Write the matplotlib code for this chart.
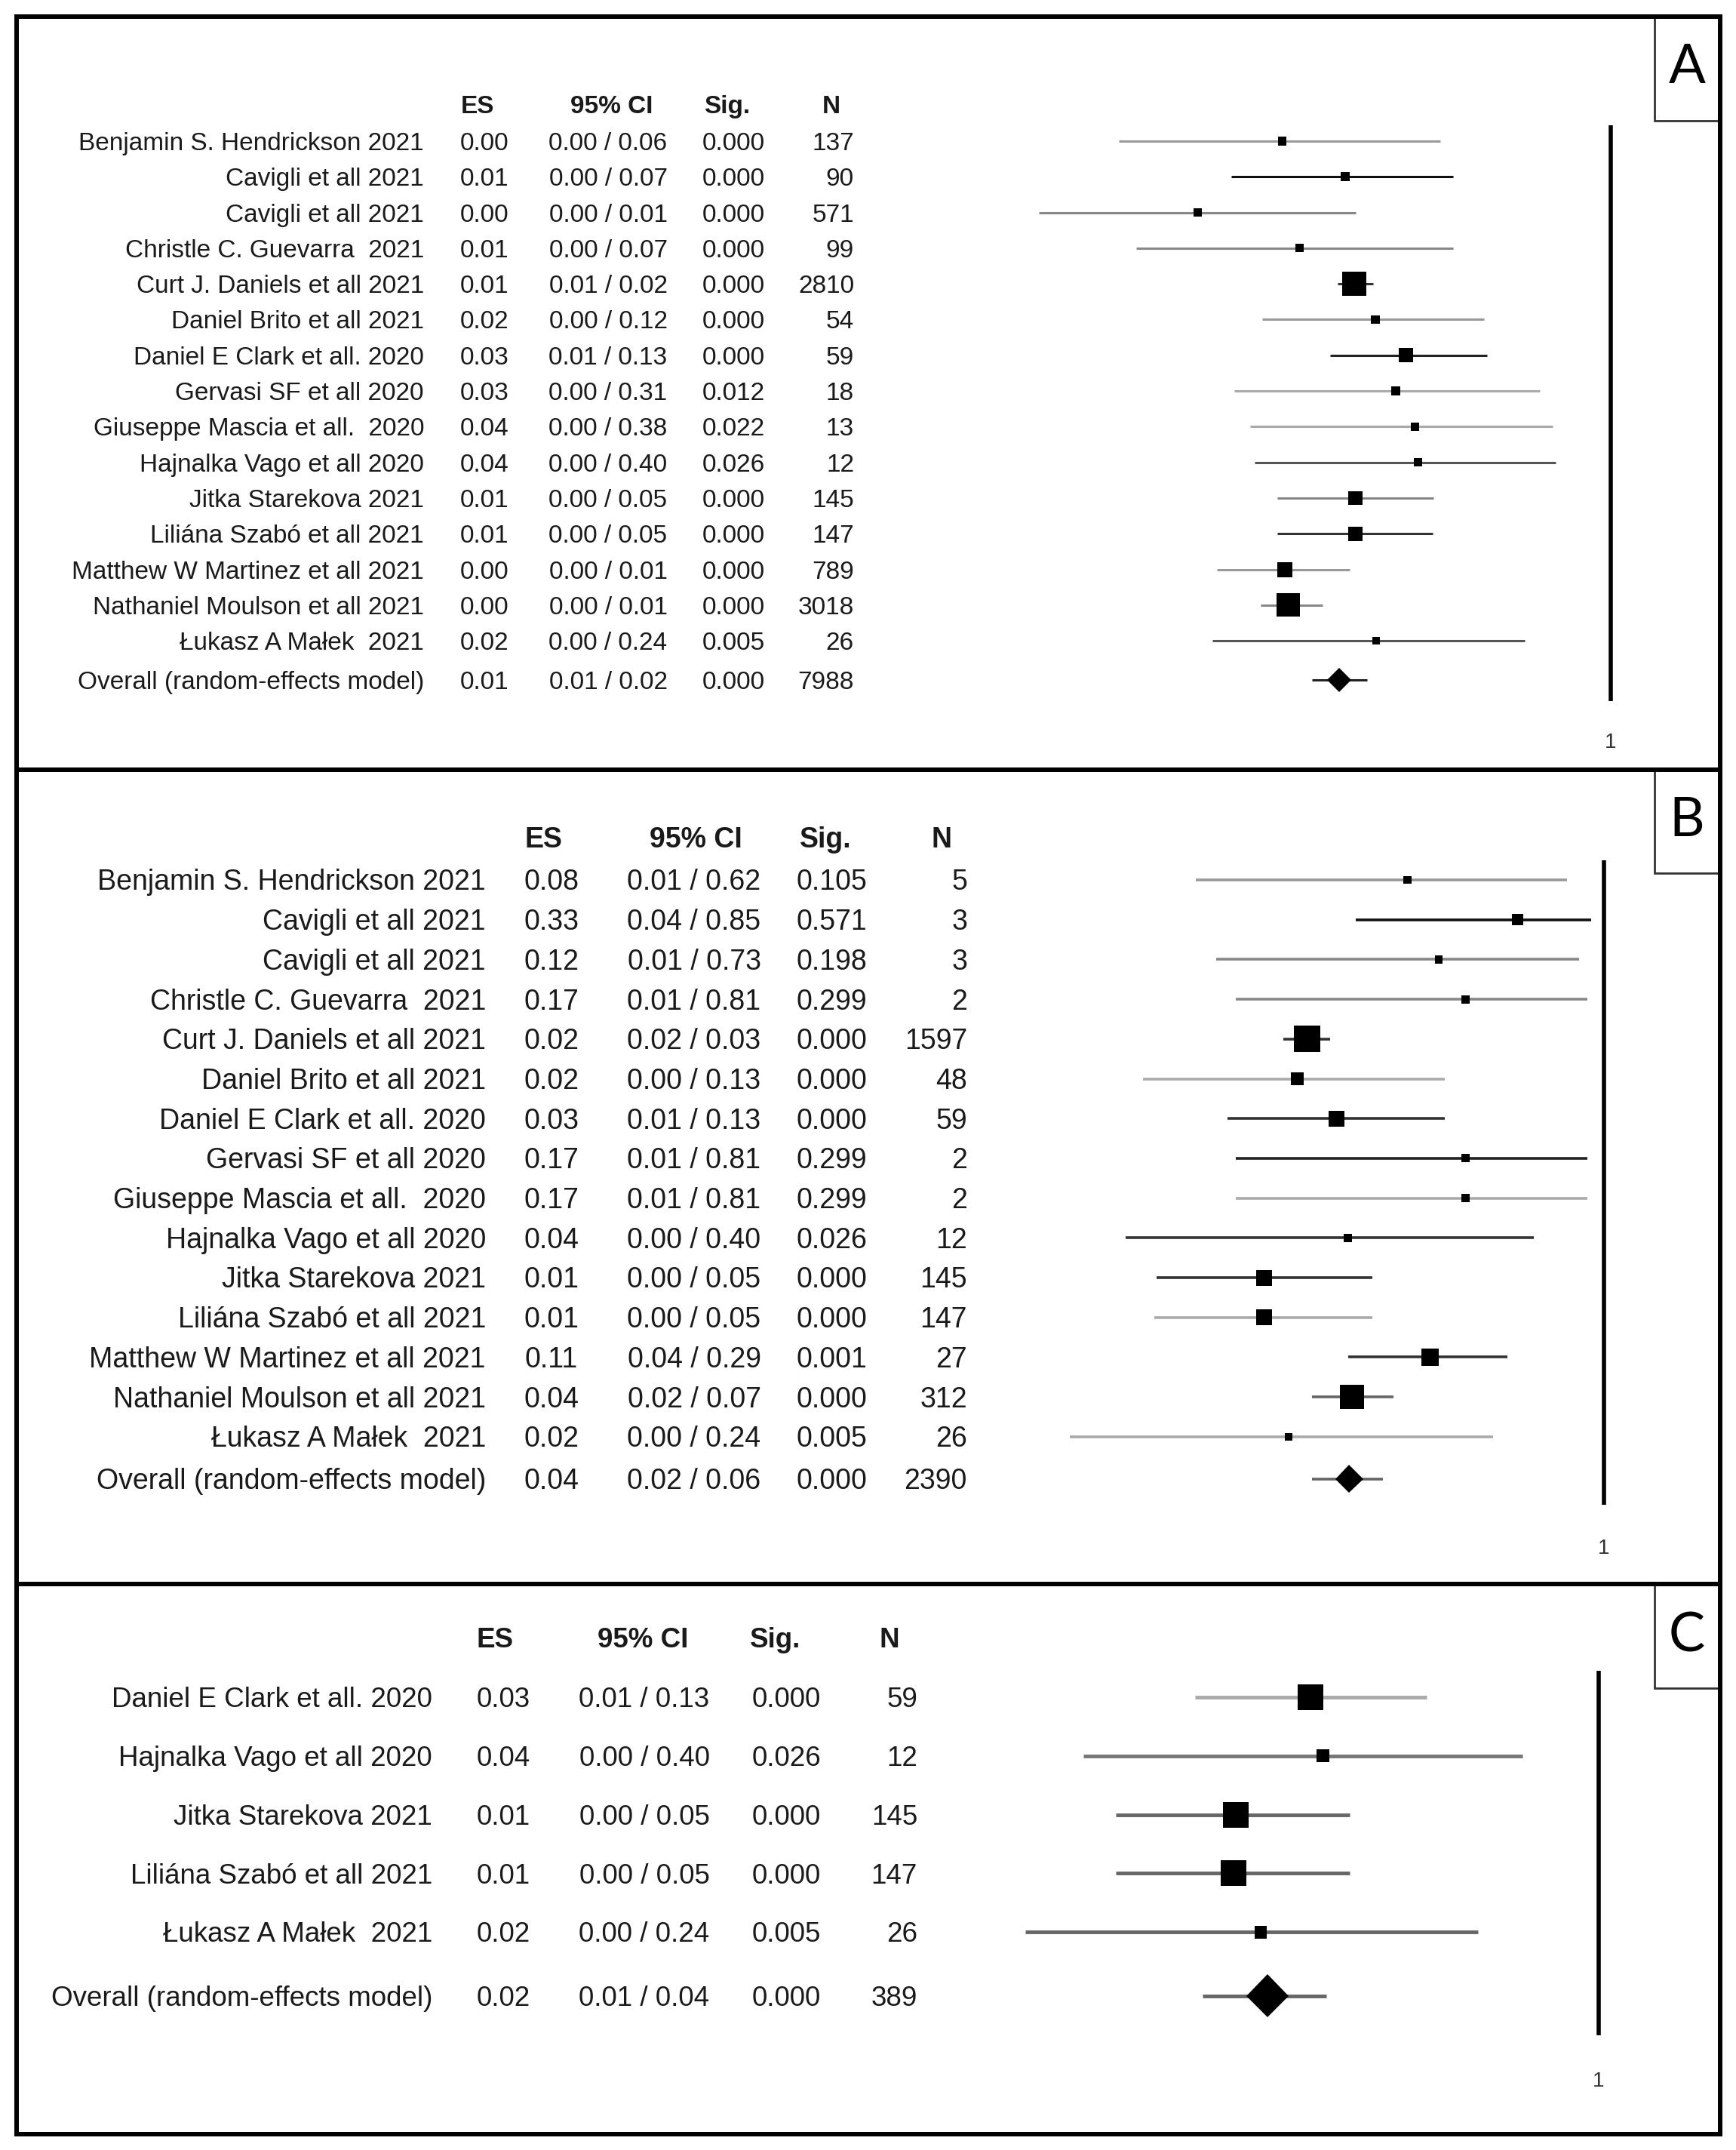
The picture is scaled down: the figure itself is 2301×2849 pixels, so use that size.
import numpy as np
import matplotlib.pyplot as plt
from matplotlib.patches import Rectangle

plt.rcParams['font.family'] = ['Liberation Sans', 'DejaVu Sans']

W, H, DPI = 2301, 2849, 100

# ---------------- data: panel A ----------------
studies_A = ['Benjamin S. Hendrickson 2021', 'Cavigli et all 2021', 'Cavigli et all 2021',
             'Christle C. Guevarra  2021', 'Curt J. Daniels et all 2021', 'Daniel Brito et all 2021',
             'Daniel E Clark et all. 2020', 'Gervasi SF et all 2020', 'Giuseppe Mascia et all.  2020',
             'Hajnalka Vago et all 2020', 'Jitka Starekova 2021', 'Liliána Szabó et all 2021',
             'Matthew W Martinez et all 2021', 'Nathaniel Moulson et all 2021', 'Łukasz A Małek  2021']
es_A = [0.00, 0.01, 0.00, 0.01, 0.01, 0.02, 0.03, 0.03, 0.04, 0.04, 0.01, 0.01, 0.00, 0.00, 0.02]
lo_A = [0.00, 0.00, 0.00, 0.00, 0.01, 0.00, 0.01, 0.00, 0.00, 0.00, 0.00, 0.00, 0.00, 0.00, 0.00]
hi_A = [0.06, 0.07, 0.01, 0.07, 0.02, 0.12, 0.13, 0.31, 0.38, 0.40, 0.05, 0.05, 0.01, 0.01, 0.24]
sig_A = [0.000, 0.000, 0.000, 0.000, 0.000, 0.000, 0.000, 0.012, 0.022, 0.026, 0.000, 0.000, 0.000, 0.000, 0.005]
n_A = [137, 90, 571, 99, 2810, 54, 59, 18, 13, 12, 145, 147, 789, 3018, 26]
overall_A = [0.01, 0.01, 0.02, 0.000, 7988]
# unrounded estimates as plotted (log scale)
pe_A = [0.0044, 0.0125, 0.0011, 0.0059, 0.0145, 0.0206, 0.034, 0.0288, 0.0398, 0.0418,
        0.0148, 0.0148, 0.0046, 0.0049, 0.0208]
pl_A = [0.0003, 0.0019, 0.00008, 0.0004, 0.011, 0.0032, 0.0098, 0.0020, 0.0026, 0.0028,
        0.0041, 0.0041, 0.0015, 0.0031, 0.0014]
ph_A = [0.060, 0.074, 0.0149, 0.074, 0.0198, 0.124, 0.130, 0.312, 0.383, 0.404,
        0.054, 0.053, 0.0135, 0.0086, 0.243]
pov_A = [0.0113, 0.0072, 0.018]
wt_A = [2.8, 3.3, 2.8, 2.8, 23.6, 3.3, 8.3, 3.3, 2.8, 2.8, 8.3, 8.3, 9.2, 22.1, 2.3]

# ---------------- data: panel B ----------------
studies_B = studies_A
es_B = [0.08, 0.33, 0.12, 0.17, 0.02, 0.02, 0.03, 0.17, 0.17, 0.04, 0.01, 0.01, 0.11, 0.04, 0.02]
lo_B = [0.01, 0.04, 0.01, 0.01, 0.02, 0.00, 0.01, 0.01, 0.01, 0.00, 0.00, 0.00, 0.04, 0.02, 0.00]
hi_B = [0.62, 0.85, 0.73, 0.81, 0.03, 0.13, 0.13, 0.81, 0.81, 0.40, 0.05, 0.05, 0.29, 0.07, 0.24]
sig_B = [0.105, 0.571, 0.198, 0.299, 0.000, 0.000, 0.000, 0.299, 0.299, 0.026, 0.000, 0.000, 0.001, 0.000, 0.005]
n_B = [5, 3, 3, 2, 1597, 48, 59, 2, 2, 12, 145, 147, 27, 312, 26]
overall_B = [0.04, 0.02, 0.06, 0.000, 2390]
pe_B = [0.078, 0.327, 0.117, 0.166, 0.0211, 0.0187, 0.031, 0.166, 0.166, 0.036,
        0.0121, 0.0121, 0.105, 0.038, 0.0166]
pl_B = [0.005, 0.040, 0.0065, 0.0084, 0.0155, 0.0025, 0.0075, 0.0084, 0.0084, 0.0020,
        0.0030, 0.0029, 0.036, 0.0226, 0.00097]
ph_B = [0.62, 0.846, 0.727, 0.806, 0.0285, 0.127, 0.126, 0.806, 0.806, 0.402,
        0.0495, 0.0495, 0.285, 0.065, 0.236]
pov_B = [0.0365, 0.0226, 0.0567]
wt_B = [2.2, 4.1, 2.2, 2.2, 22.5, 5.3, 8.1, 2.2, 2.2, 2.2, 8.1, 8.1, 9.7, 18.8, 1.8]

# ---------------- data: panel C ----------------
studies_C = ['Daniel E Clark et all. 2020', 'Hajnalka Vago et all 2020', 'Jitka Starekova 2021',
             'Liliána Szabó et all 2021', 'Łukasz A Małek  2021']
es_C = [0.03, 0.04, 0.01, 0.01, 0.02]
lo_C = [0.01, 0.00, 0.00, 0.00, 0.00]
hi_C = [0.13, 0.40, 0.05, 0.05, 0.24]
sig_C = [0.000, 0.026, 0.000, 0.000, 0.005]
n_C = [59, 12, 145, 147, 26]
overall_C = [0.02, 0.01, 0.04, 0.000, 389]
pe_C = [0.0318, 0.037, 0.013, 0.0126, 0.0175]
pl_C = [0.008, 0.0021, 0.0031, 0.0031, 0.00105]
ph_C = [0.128, 0.402, 0.0508, 0.0508, 0.236]
pov_C = [0.019, 0.0087, 0.0384]
wt_C = [28.6, 7.1, 28.6, 28.6, 7.1]

# layout of each panel, in pixels of the final image
layout = {
    'A': dict(top=22, bot=1020, x1=2135, k=185, y0=187, step=47.3, yov=901, yhead=138, fs=24,
              cols=(562, 642, 806, 972, 1132), heads=(633, 811, 964, 1102),
              ref=(166, 929), ylab=984, lw=2.2, sq=32, dia=32, box=160, ylet=90,
              shades=['#999', '#111', '#888', '#888', '#333', '#999', '#222', '#aaa', '#aaa',
                      '#555', '#888', '#333', '#999', '#888', '#555'], ovc='#222'),
    'B': dict(top=1020, bot=2099, x1=2126, k=235, y0=1166, step=52.7, yov=1960, yhead=1110, fs=27,
              cols=(644, 731, 920, 1102, 1282), heads=(720, 922, 1094, 1248),
              ref=(1140, 1994), ylab=2052, lw=2.6, sq=35, dia=37, box=1157, ylet=1087,
              shades=['#999', '#111', '#888', '#888', '#333', '#aaa', '#333', '#222', '#aaa',
                      '#333', '#333', '#aaa', '#333', '#666', '#aaa'], ovc='#666'),
    'C': dict(top=2099, bot=2828, x1=2119, k=255, y0=2249, step=77.8, yov=2645, yhead=2170, fs=26.5,
              cols=(573, 667, 854, 1042, 1216), heads=(656, 852, 1028, 1179),
              ref=(2214, 2697), ylab=2758, lw=3.5, sq=34, dia=57, box=2237, ylet=2168,
              shades=['#aaa', '#777', '#666', '#666', '#666'], ovc='#666'),
}

fig = plt.figure(figsize=(W / DPI, H / DPI), dpi=DPI)
bg = fig.add_axes([0, 0, 1, 1])
bg.set_xlim(0, W)
bg.set_ylim(H, 0)
bg.axis('off')

px2pt = 72 / DPI
txt = '#1a1a1a'


def draw_panel(tag, names, es, lo, hi, sig, n, overall, pe, pl, ph, pov, wt):
    p = layout[tag]
    fs = p['fs']
    off = 0.358 * fs / px2pt  # half cap height in pixels
    xn, xes, xci, xsig, xnr = p['cols']

    # header
    for label, x in zip(['ES', '95% CI', 'Sig.', 'N'], p['heads']):
        bg.text(x, p['yhead'] + off, label, fontsize=fs, fontweight='bold', ha='center',
                va='baseline', color=txt)

    ys = p['y0'] + p['step'] * np.arange(len(names))
    rows = list(zip(names, es, lo, hi, sig, n, ys))
    rows.append(('Overall (random-effects model)', *overall, p['yov']))
    for name, e, l, h, s, nn, y in rows:
        yb = y + off
        bg.text(xn, yb, name, fontsize=fs, ha='right', va='baseline', color=txt)
        bg.text(xes, yb, f'{e:.2f}', fontsize=fs, ha='center', va='baseline', color=txt)
        bg.text(xci, yb, f'{l:.2f} / {h:.2f}', fontsize=fs, ha='center', va='baseline', color=txt)
        bg.text(xsig, yb, f'{s:.3f}', fontsize=fs, ha='center', va='baseline', color=txt)
        bg.text(xnr, yb, f'{nn}', fontsize=fs, ha='right', va='baseline', color=txt)

    # forest plot axes, log scale; 1 sits at pixel x1, k pixels per decade
    left, right = 1300, 2200
    ax = fig.add_axes([left / W, 1 - p['bot'] / H, (right - left) / W, (p['bot'] - p['top']) / H])
    ax.set_xscale('log')
    ax.set_xlim(10 ** ((left - p['x1']) / p['k']), 10 ** ((right - p['x1']) / p['k']))
    ax.set_ylim(p['bot'], p['top'])
    ax.axis('off')
    ax.patch.set_visible(False)

    ax.hlines(ys, pl, ph, colors=p['shades'], lw=p['lw'])
    wt = np.array(wt)
    side = p['sq'] * np.sqrt(wt / wt.max()) * px2pt
    ax.scatter(pe, ys, marker='s', s=side ** 2, color='black', linewidths=0, zorder=3)

    ax.hlines(p['yov'], pov[1], pov[2], colors=p['ovc'], lw=p['lw'])
    ax.plot(pov[0], p['yov'], marker='D', color='black', markeredgewidth=0,
            markersize=p['dia'] * px2pt / np.sqrt(2), zorder=3)

    # null line at 1
    ax.vlines(1, p['ref'][0], p['ref'][1], colors='black', lw=4)
    ax.text(1, p['ylab'], '1', fontsize=20, ha='center', va='center', color='#333')

    # panel letter box
    bg.add_patch(Rectangle((2193, p['top']), 2280 - 2193, p['box'] - p['top'],
                           fill=False, edgecolor='#333', lw=2))
    bg.text(2236, p['ylet'], tag, fontsize=52, ha='center', va='center', family='Lato')


draw_panel('A', studies_A, es_A, lo_A, hi_A, sig_A, n_A, overall_A, pe_A, pl_A, ph_A, pov_A, wt_A)
draw_panel('B', studies_B, es_B, lo_B, hi_B, sig_B, n_B, overall_B, pe_B, pl_B, ph_B, pov_B, wt_B)
draw_panel('C', studies_C, es_C, lo_C, hi_C, sig_C, n_C, overall_C, pe_C, pl_C, ph_C, pov_C, wt_C)

# outer frame and dividers between panels
bg.add_patch(Rectangle((22, 22), 2280 - 22, 2828 - 22, fill=False, edgecolor='black', lw=4.3))
bg.hlines([1020, 2099], 22, 2280, colors='black', lw=4.3)

fig.savefig('out.png', dpi=DPI)
